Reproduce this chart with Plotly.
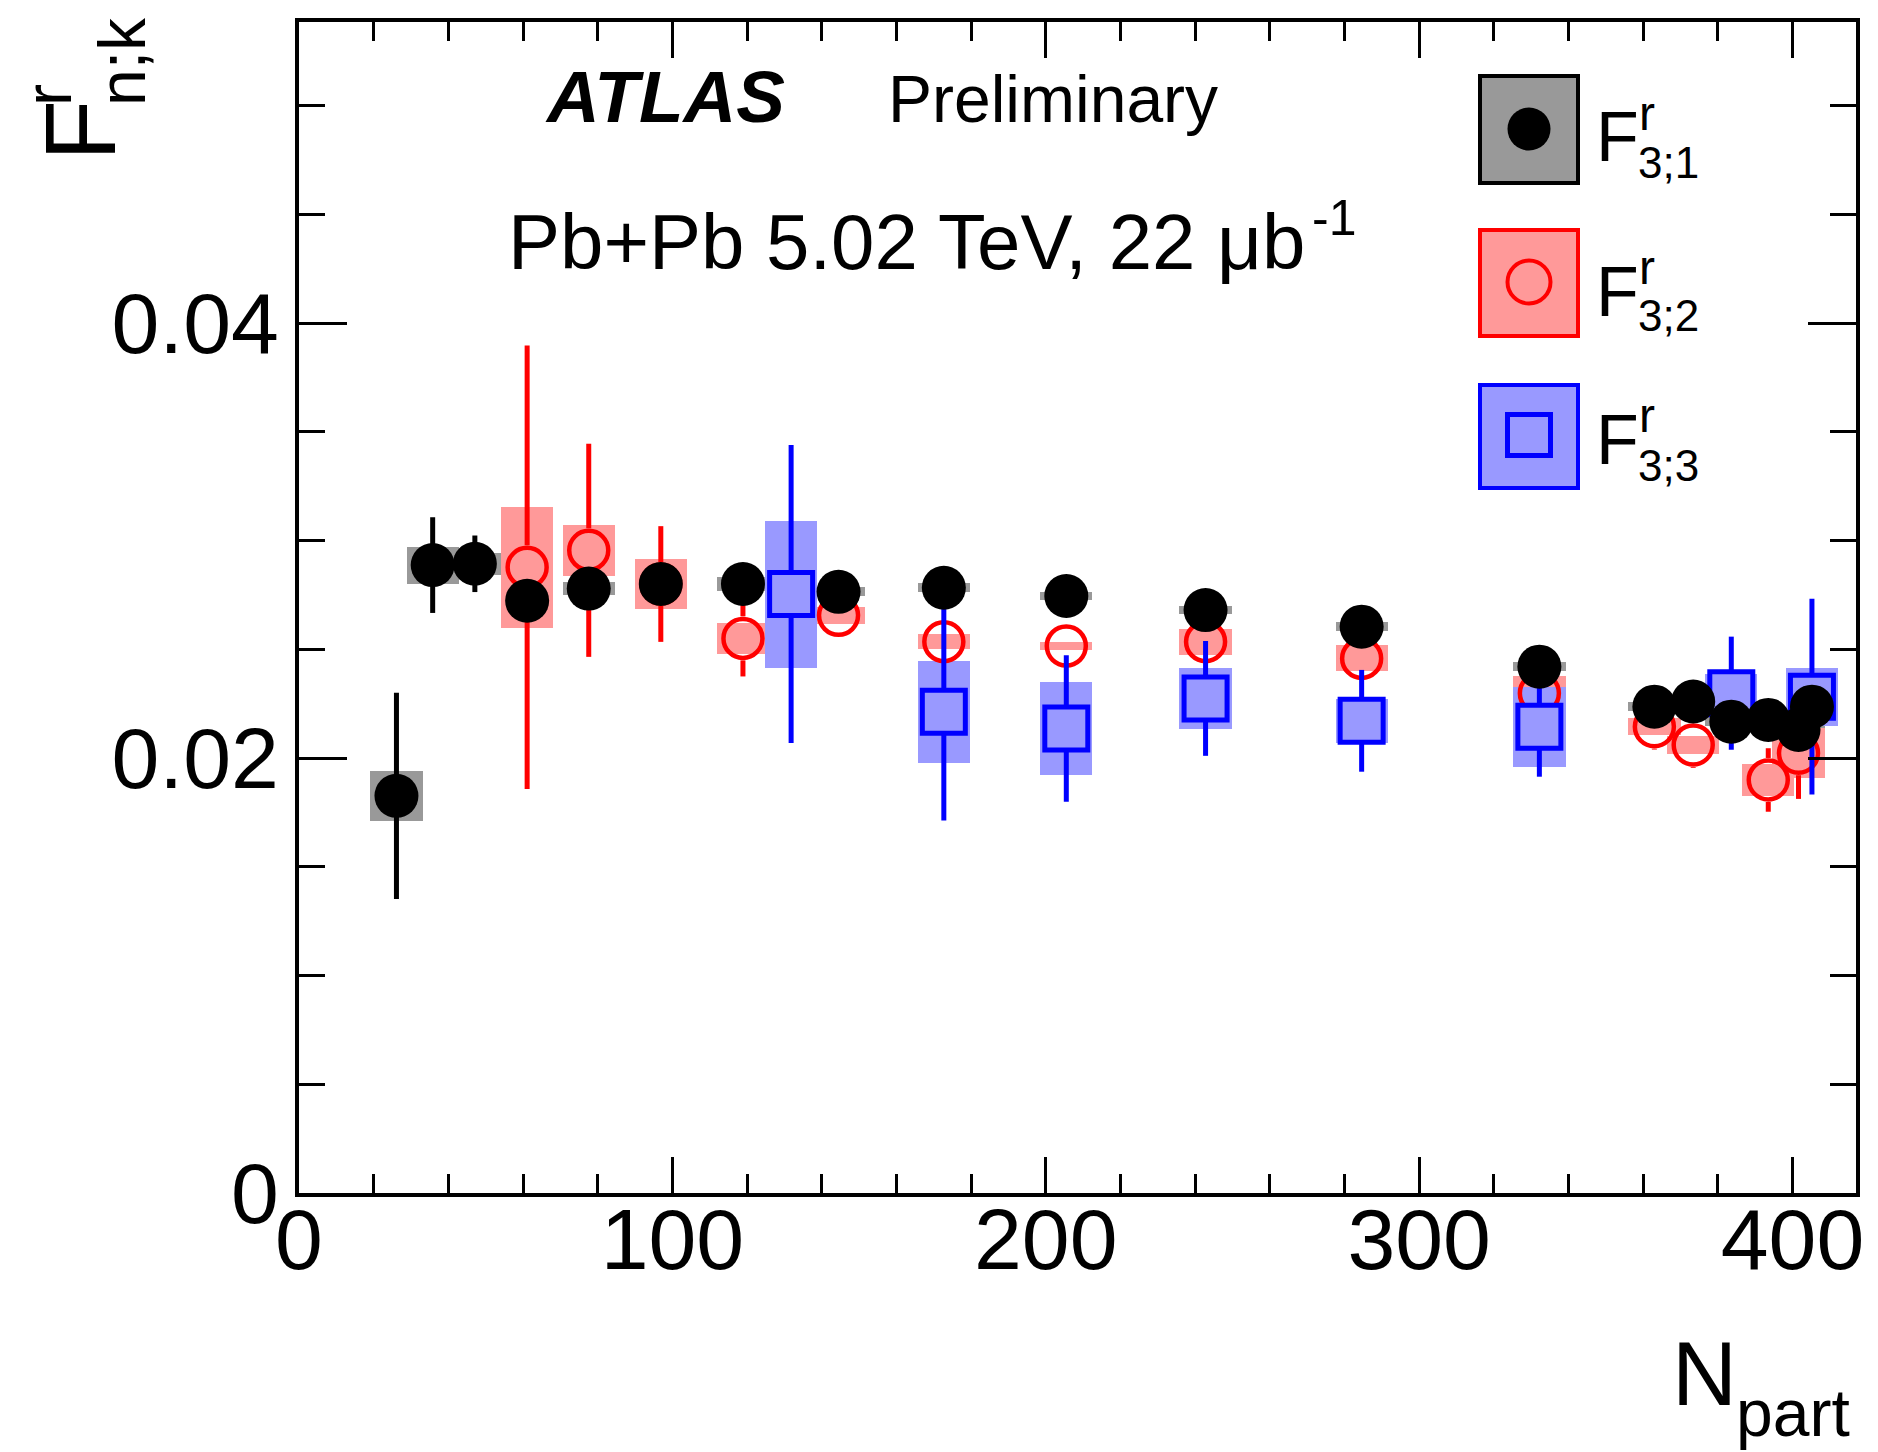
import plotly.graph_objects as go

# ---------------- data ----------------
npart_k1 = [26.1, 35.8, 47.1, 61.1, 77.6, 96.9, 118.9, 144.5, 172.7, 205.5, 242.8, 284.6,
            332.2, 363.0, 373.4, 383.6, 393.5, 401.6, 405.2]
f_k1 = [0.01826, 0.02887, 0.02893, 0.02723, 0.02779, 0.0280, 0.0280, 0.02764, 0.02783, 0.02745,
        0.0268, 0.02604, 0.0242, 0.02236, 0.0226, 0.02167, 0.02175, 0.02129, 0.02236]
stat_k1 = [0.00474, 0.0022, 0.0013, 0.0008, 0.0007, 0.0006, 0.0005, 0.0005, 0.0005, 0.0005,
           0.0005, 0.0005, 0.0005, 0.0004, 0.0004, 0.0004, 0.0004, 0.0004, 0.0004]
sys_k1 = [0.00115, 0.00085, 0.0005, 0.0005, 0.0003, 0.0003, 0.0003, 0.0002, 0.0002, 0.0002,
          0.0002, 0.0002, 0.0002, 0.0002, 0.0002, 0.0002, 0.0002, 0.0002, 0.0002]

npart_k2 = [61.1, 77.6, 96.9, 118.9, 144.5, 172.7, 205.5, 242.8, 284.6, 332.2, 363.0, 373.4,
            383.6, 393.5, 401.6]
f_k2 = [0.02877, 0.02955, 0.0280, 0.0255, 0.02656, 0.02535, 0.02515, 0.02535, 0.02458, 0.02298,
        0.02144, 0.0206, 0.02267, 0.01899, 0.02022]
stat_k2 = [0.0102, 0.0049, 0.00266, 0.00175, 0.0005, 0.0004, 0.0004, 0.0004, 0.0004, 0.0006,
           0.00105, 0.00105, 0.0009, 0.00146, 0.0021]
sys_k2 = [0.00277, 0.00117, 0.00117, 0.0007, 0.0004, 0.00035, 0.0002, 0.0006, 0.0006, 0.0008,
          0.0004, 0.0004, 0.0006, 0.00073, 0.00115]

npart_k3 = [131.8, 172.7, 205.5, 242.8, 284.6, 332.2, 383.6, 405.2]
f_k3 = [0.02754, 0.02213, 0.02136, 0.02274, 0.02171, 0.02144, 0.02298, 0.02282]
stat_k3 = [0.00685, 0.005, 0.00337, 0.00264, 0.00234, 0.0023, 0.0026, 0.0045]
sys_k3 = [0.00338, 0.00235, 0.00215, 0.00142, 0.001, 0.00184, 0.0009, 0.00134]

x_ticks = [0, 100, 200, 300, 400]
x_ticklabels = ["0", "100", "200", "300", "400"]
y_ticks = [0, 0.02, 0.04]
y_ticklabels = ["0", "0.02", "0.04"]

# ---------------- layout geometry ----------------
WIDTH, HEIGHT = 1878, 1452
L, R, T, B = 299, 1856, 22, 1193
PW, PH = R - L, B - T
X_RANGE = [0, 417]
Y_RANGE = [0, 0.05384]
FONT = "Liberation Sans, Arial, Helvetica, sans-serif"

GRAY_BOX = "#999999"
RED = "#ff0000"
RED_BOX = "#ff9999"
BLUE = "#0000ff"
BLUE_BOX = "#9999ff"
BOX_W = 14  # width of systematic boxes in Npart units

fig = go.Figure()

# systematic boxes
for xs, ys, ss, col in [(npart_k1, f_k1, sys_k1, GRAY_BOX),
                        (npart_k2, f_k2, sys_k2, RED_BOX),
                        (npart_k3, f_k3, sys_k3, BLUE_BOX)]:
    fig.add_trace(go.Bar(x=xs, y=[2 * s for s in ss], base=[y - s for y, s in zip(ys, ss)],
                         width=BOX_W, marker=dict(color=col, line=dict(width=0)),
                         showlegend=False, hoverinfo="skip"))

# red: error bars that stop at the open marker edge
y_per_px = (Y_RANGE[1] - Y_RANGE[0]) / PH
gap = 22 * y_per_px
seg_x, seg_y = [], []
for x, y, e in zip(npart_k2, f_k2, stat_k2):
    if e > gap:
        seg_x += [x, x, None, x, x, None]
        seg_y += [y + gap, y + e, None, y - gap, y - e, None]
fig.add_trace(go.Scatter(x=seg_x, y=seg_y, mode="lines", line=dict(color=RED, width=5),
                         showlegend=False, hoverinfo="skip"))
fig.add_trace(go.Scatter(x=npart_k2, y=f_k2, mode="markers",
                         marker=dict(symbol="circle-open", size=39, color=RED,
                                     line=dict(color=RED, width=4.5)),
                         showlegend=False))

# blue
fig.add_trace(go.Scatter(x=npart_k3, y=f_k3, mode="markers",
                         error_y=dict(type="data", array=stat_k3, color=BLUE, thickness=5, width=0),
                         marker=dict(symbol="square", size=43, color=BLUE_BOX,
                                     line=dict(color=BLUE, width=5)),
                         showlegend=False))

# black
fig.add_trace(go.Scatter(x=npart_k1, y=f_k1, mode="markers",
                         error_y=dict(type="data", array=stat_k1, color="black", thickness=5, width=0),
                         marker=dict(symbol="circle", size=44, color="black", line=dict(width=0)),
                         showlegend=False))


def px(xp):
    return (xp - L) / PW


def py(yp):
    return (B - yp) / PH


shapes = []
# legend boxes
for (y0, y1, fill, edge) in [(74, 185, GRAY_BOX, "black"), (228, 338, RED_BOX, RED), (383, 490, BLUE_BOX, BLUE)]:
    shapes.append(dict(type="rect", xref="paper", yref="paper", x0=px(1480), x1=px(1578),
                       y0=py(y1 - 2), y1=py(y0 + 2), fillcolor=fill, line=dict(color=edge, width=4),
                       layer="above"))
# legend markers
shapes.append(dict(type="circle", xref="paper", yref="paper", x0=px(1529 - 21.5), x1=px(1529 + 21.5),
                   y0=py(129 + 21.5), y1=py(129 - 21.5), fillcolor="black", line=dict(width=0), layer="above"))
shapes.append(dict(type="circle", xref="paper", yref="paper", x0=px(1529 - 21.5), x1=px(1529 + 21.5),
                   y0=py(282 + 21.5), y1=py(282 - 21.5), fillcolor="rgba(0,0,0,0)",
                   line=dict(color=RED, width=4), layer="above"))
shapes.append(dict(type="rect", xref="paper", yref="paper", x0=px(1507.5), x1=px(1550.5),
                   y0=py(455.5), y1=py(414.5), fillcolor=BLUE_BOX,
                   line=dict(color=BLUE, width=5), layer="above"))

ann = []


def text(t, x, y, size, xanchor="left", yanchor="middle", angle=0):
    ann.append(dict(text=t, xref="paper", yref="paper", x=px(x), y=py(y), xanchor=xanchor,
                    yanchor=yanchor, showarrow=False, textangle=angle,
                    font=dict(family=FONT, size=size, color="black")))


text("<b><i>ATLAS</i></b>", 543, 97, 73)
text("Preliminary", 886, 99, 66)
text("Pb+Pb 5.02 TeV, 22 \u03bcb", 506, 242, 78)
text("-1", 1310, 218, 50)

for fy, ry, sy, lab in [(137, 113.5, 162.5, "3;1"), (291.7, 267.5, 315.5, "3;2"), (440, 415, 465, "3;3")]:
    text("F", 1594, fy, 70)
    text("r", 1637, ry, 48)
    text(lab, 1636, sy, 44)

# axis titles
text("N", 1670, 1374, 90)
text("part", 1734, 1413, 66)
text("F", 80, 131, 100, xanchor="center", angle=-90)
text("r", 48, 95, 66, xanchor="center", angle=-90)
text("n;k", 122, 62, 66, xanchor="center", angle=-90)

axis_common = dict(showgrid=False, zeroline=False, showline=True, linecolor="black", linewidth=4,
                   mirror="ticks", ticks="inside", tickcolor="black", tickwidth=3,
                   tickfont=dict(family=FONT, size=86, color="black"), automargin=False)

fig.update_layout(
    width=WIDTH, height=HEIGHT,
    margin=dict(l=L, r=WIDTH - R, t=T, b=HEIGHT - B, pad=0),
    paper_bgcolor="white", plot_bgcolor="white",
    barmode="overlay", bargap=0,
    showlegend=False,
    xaxis=dict(range=X_RANGE, tickvals=x_ticks, ticktext=x_ticklabels, ticklen=36,
               ticklabelstandoff=-31,
               minor=dict(dtick=20, tick0=0, ticklen=19, tickwidth=3, ticks="inside", tickcolor="black"),
               **axis_common),
    yaxis=dict(range=Y_RANGE, tickvals=y_ticks, ticktext=y_ticklabels, ticklen=48,
               ticklabelstandoff=-1,
               minor=dict(dtick=0.005, tick0=0, ticklen=26, tickwidth=3, ticks="inside", tickcolor="black"),
               **axis_common),
    shapes=shapes,
    annotations=ann,
)

fig.write_html("out.html", config={"displayModeBar": False},
               post_script="document.body.style.margin='0px';document.body.style.overflow='hidden';")
